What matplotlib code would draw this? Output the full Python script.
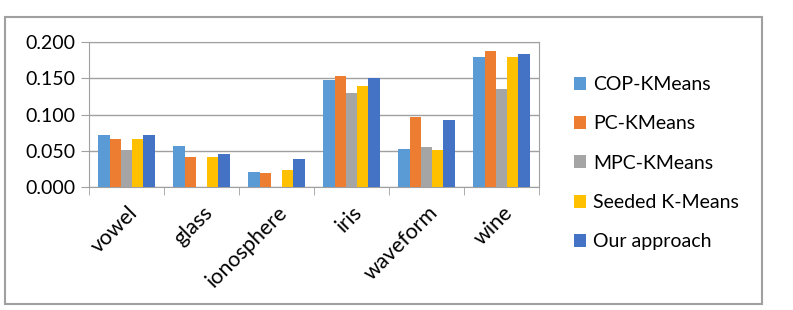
import matplotlib.pyplot as plt
import matplotlib.transforms as mtransforms
import numpy as np

plt.rcParams['font.family'] = ['Lato', 'DejaVu Sans']

datasets = ["vowel", "glass", "ionosphere", "iris", "waveform", "wine"]
methods = ["COP-KMeans", "PC-KMeans", "MPC-KMeans", "Seeded K-Means", "Our approach"]
cop_kmeans = [0.072, 0.057, 0.021, 0.147, 0.052, 0.180]
pc_kmeans = [0.066, 0.042, 0.020, 0.153, 0.097, 0.187]
mpc_kmeans = [0.051, 0.0, 0.0, 0.129, 0.055, 0.135]
seeded_kmeans = [0.066, 0.041, 0.024, 0.139, 0.051, 0.180]
our_approach = [0.072, 0.045, 0.039, 0.150, 0.093, 0.183]
colors = ["#5B9BD5", "#ED7D31", "#A5A5A5", "#FFC000", "#4472C4"]

series = [cop_kmeans, pc_kmeans, mpc_kmeans, seeded_kmeans, our_approach]

fig = plt.figure(figsize=(7.93, 3.10), dpi=100)
ax = fig.add_axes([89 / 793, 1 - 187 / 310, 450 / 793, 145 / 310])

x = np.arange(len(datasets))
w = 0.151
for i, (vals, name) in enumerate(zip(series, methods)):
    ax.bar(x + (i - 2) * w, vals, w, color=colors[i], label=name, zorder=3)

ax.set_xlim(-0.5, len(datasets) - 0.5)
ax.set_ylim(0, 0.2)
ax.set_yticks(np.arange(0, 0.201, 0.05))
ax.set_yticklabels(["%.3f" % v for v in np.arange(0, 0.201, 0.05)], fontsize=14)
ax.yaxis.grid(True, color="#A0A0A0", linewidth=1, zorder=0)

ax.set_xticks(x)
ax.set_xticklabels(datasets, rotation=45, ha="right", va="center",
                   rotation_mode="anchor", fontsize=15.5)
ax.set_xticks(np.arange(-0.5, len(datasets), 1), minor=True)
ax.tick_params(axis="x", which="major", length=0, pad=16)
ax.tick_params(axis="x", which="minor", length=6, color="#A0A0A0")
ax.tick_params(axis="y", length=6, color="#A0A0A0", pad=4)

# nudge rotated labels to the right like the original
shift = mtransforms.ScaledTranslation(8 / 100, 0, fig.dpi_scale_trans)
for lbl in ax.get_xticklabels():
    lbl.set_transform(lbl.get_transform() + shift)

for s in ax.spines.values():
    s.set_color("#A0A0A0")

leg = ax.legend(loc="upper left", bbox_to_anchor=(1.06, 0.82), frameon=False,
                fontsize=14, handlelength=0.65, handleheight=0.65,
                handletextpad=0.35, labelspacing=1.15, borderaxespad=0)

# outer chart border
fig.patches.append(plt.Rectangle((5 / 793, 1 - 304 / 310), 757 / 793, 287 / 310,
                                 transform=fig.transFigure, fill=False,
                                 edgecolor="#A0A0A0", linewidth=1.5))

fig.savefig("out.png")
plt.close(fig)
